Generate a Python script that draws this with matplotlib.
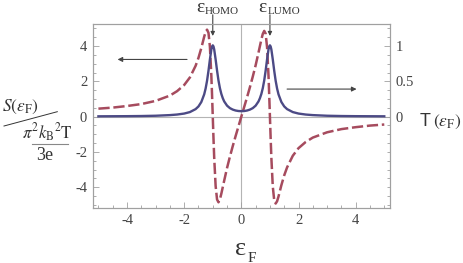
import matplotlib
matplotlib.use("Agg")
import matplotlib.pyplot as plt
from matplotlib.lines import Line2D
from matplotlib.ticker import FixedLocator, MultipleLocator

# Fermi energy, thermopower S (left axis) and transmission T (right axis)
energy = [-5.0, -4.5, -4.0, -3.5, -3.0, -2.5, -2.25, -2.0, -1.8, -1.6, -1.5, -1.4,
          -1.3, -1.25, -1.2, -1.15, -1.1, -1.05, -1.025, -1.0, -0.975, -0.95, -0.9,
          -0.85, -0.8, -0.75, -0.7, -0.65, -0.6, -0.5, -0.4, -0.3, -0.2, -0.1,
          0.0, 0.1, 0.2, 0.3, 0.4, 0.5, 0.6, 0.65, 0.7, 0.75, 0.8, 0.85, 0.9, 0.95,
          0.975, 1.0, 1.025, 1.05, 1.1, 1.15, 1.2, 1.25, 1.3, 1.4, 1.5, 1.6, 1.8,
          2.0, 2.25, 2.5, 3.0, 3.5, 4.0, 4.5, 5.0]
seebeck = [0.45, 0.51, 0.60, 0.71, 0.89, 1.19, 1.44, 1.79, 2.22, 2.88, 3.33, 3.89,
           4.53, 4.80, 4.93, 4.75, 3.97, 2.34, 1.23, 0.01, -1.21, -2.32, -3.93,
           -4.70, -4.86, -4.69, -4.37, -4.00, -3.63, -2.91, -2.27, -1.67, -1.10, -0.55,
           0.00, 0.55, 1.10, 1.67, 2.27, 2.91, 3.63, 4.00, 4.37, 4.69, 4.86, 4.70, 3.93, 2.32,
           1.21, -0.01, -1.23, -2.34, -3.97, -4.75, -4.93, -4.80, -4.53, -3.89, -3.33, -2.88, -2.22,
           -1.79, -1.44, -1.19, -0.89, -0.71, -0.60, -0.51, -0.45]
transmission = [0.004, 0.005, 0.006, 0.008, 0.012, 0.021, 0.029, 0.043, 0.064, 0.106, 0.144, 0.207,
                0.315, 0.398, 0.508, 0.649, 0.809, 0.951, 0.994, 1.010, 0.995, 0.952, 0.811,
                0.652, 0.512, 0.403, 0.321, 0.261, 0.215, 0.155, 0.120, 0.099, 0.086, 0.079,
                0.077, 0.079, 0.086, 0.099, 0.120, 0.155, 0.215, 0.261, 0.321, 0.403, 0.512, 0.652, 0.811, 0.952,
                0.995, 1.010, 0.994, 0.951, 0.809, 0.649, 0.508, 0.398, 0.315, 0.207, 0.144, 0.106, 0.064,
                0.043, 0.029, 0.021, 0.012, 0.008, 0.006, 0.005, 0.004]

x_ticks = [-4, -2, 0, 2, 4]
x_labels = ["-4", "-2", "0", "2", "4"]
s_ticks = [-4, -2, 0, 2, 4]
s_labels = ["-4", "-2", "0", "2", "4"]
t_ticks = [0, 0.5, 1]
t_labels = ["0", "0.5", "1"]
levels = [-1.0, 1.0]
level_names = ["HOMO", "LUMO"]

plt.rcParams["font.family"] = "Liberation Serif"
plt.rcParams["mathtext.fontset"] = "stix"

RED = "#a64b5e"
BLUE = "#4c4a85"
FRAME = "#a0a0a0"
TXT = "#333333"

W, H = 463.0, 263.0
def fx(px):
    return px / W
def fy(py):
    return 1 - py / H

fig = plt.figure(figsize=(4.63, 2.63), dpi=100)
ax = fig.add_axes([fx(92.7), fy(208.3), fx(390) - fx(92.7), fy(24) - fy(208.3)])
ax2 = ax.twinx()

ax.axhline(0, color="#b4b4b4", lw=0.8, zorder=0.5)
ax.axvline(0, color="#b4b4b4", lw=0.8, zorder=0.5)
ax.plot(energy, seebeck, color=RED, lw=1.8, dashes=(4.5, 1.5))
ax2.plot(energy, transmission, color=BLUE, lw=1.7)

ax.set_xlim(-5.2, 5.2)
ax.set_ylim(-5.2, 5.25)
ax2.set_ylim(-5.2 / 4, 5.25 / 4)

for a in (ax, ax2):
    for sp in a.spines.values():
        sp.set_color(FRAME)
        sp.set_linewidth(0.8)

ax.xaxis.set_major_locator(FixedLocator(x_ticks))
ax.set_xticklabels(x_labels)
ax.xaxis.set_minor_locator(MultipleLocator(0.5))
ax.yaxis.set_major_locator(FixedLocator(s_ticks))
ax.set_yticklabels(s_labels)
ax.yaxis.set_minor_locator(MultipleLocator(0.5))
ax2.yaxis.set_major_locator(FixedLocator(t_ticks))
ax2.set_yticklabels(t_labels)
ax2.yaxis.set_minor_locator(MultipleLocator(0.125))

ax.tick_params(which="both", direction="in", color=FRAME, width=0.6,
               top=False, right=False, labelsize=10.5, labelcolor="#444444")
ax.tick_params(which="major", length=4.5, pad=4)
ax.tick_params(which="minor", length=2.5)
ax2.tick_params(which="both", direction="in", color=FRAME, width=0.6,
                labelsize=10.5, labelcolor="#444444")
ax2.tick_params(which="major", length=4.5, pad=4)
ax2.tick_params(which="minor", length=2.5)

# arrows telling which axis belongs to which curve
arw = dict(arrowstyle="-|>", color="#444444", lw=0.8, mutation_scale=7, shrinkA=0, shrinkB=0)
ax.annotate("", xy=(-4.33, 3.24), xytext=(-1.9, 3.24), arrowprops=arw)
ax.annotate("", xy=(4.03, 1.56), xytext=(1.6, 1.56), arrowprops=arw)

# level markers
tr = ax.get_xaxis_transform()
for e in levels:
    ax.annotate("", xy=(e, 0.935), xycoords=tr, xytext=(e, 1.05), textcoords=tr,
                arrowprops=dict(arw, mutation_scale=6), annotation_clip=False)
for name, ex, sx in zip(level_names, [196.7, 258.3], [205.0, 267.3]):
    fig.text(fx(ex), fy(12), "\u03b5", fontsize=14, color=TXT, va="baseline")
    fig.text(fx(sx), fy(13.5), name, fontsize=8, color=TXT, va="baseline")

# x label
fig.text(fx(235), fy(255), "\u03b5", fontsize=19, color=TXT, va="baseline")
fig.text(fx(248), fy(261.5), "F", fontsize=11, color=TXT, va="baseline")

# left label: S / (pi^2 kB^2 T / 3e)
fig.text(fx(1.7), fy(111), r"$S(\varepsilon_{\mathrm{F}})$", fontsize=12.5, color=TXT, va="baseline")
fig.add_artist(Line2D([fx(4), fx(57.3)], [fy(126), fy(111.7)], transform=fig.transFigure,
                      color=TXT, lw=0.7))
fig.text(fx(21.7), fy(139.5), r"$\pi^2 k_{\mathrm{B}}{}^2\mathrm{T}$", fontsize=12, color=TXT, va="baseline")
fig.add_artist(Line2D([fx(31.7), fx(68.3)], [fy(144), fy(144)], transform=fig.transFigure,
                      color="#888888", lw=0.8))
fig.text(fx(36), fy(159.5), "3e", fontsize=13, color=TXT, va="baseline")

# right label: sans T followed by serif (eps_F)
fig.text(fx(420), fy(125.5), "T", fontsize=13, color=TXT, va="baseline", family="Liberation Sans")
fig.text(fx(433), fy(125.5), r"$(\varepsilon_{\mathrm{F}})$", fontsize=12.5, color=TXT, va="baseline")

fig.savefig("out.png", dpi=100)
